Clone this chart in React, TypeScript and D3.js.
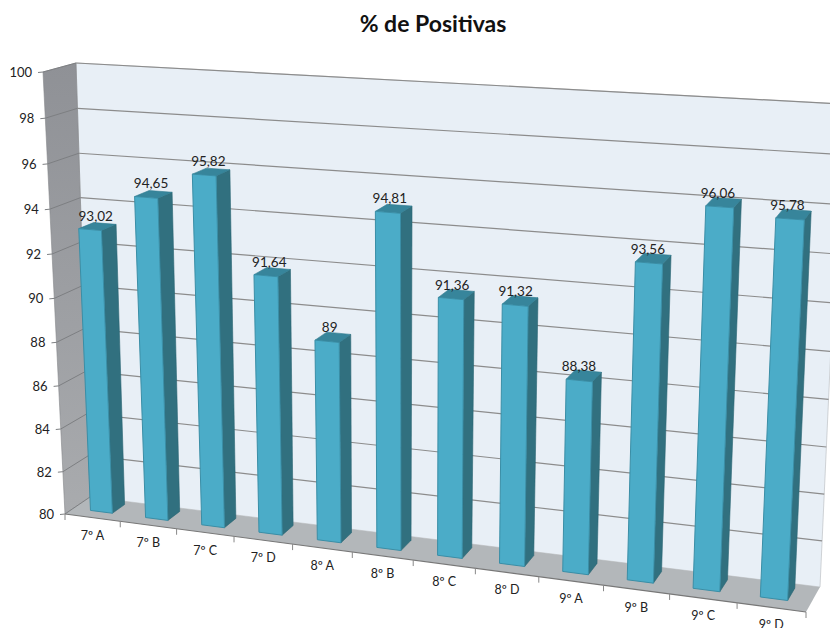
import React from "react";
import * as d3 from "d3";

const title = "% de Positivas";
const categories = ["7º A","7º B","7º C","7º D","8º A","8º B","8º C","8º D","9º A","9º B","9º C","9º D"];
const values = [93.02,94.65,95.82,91.64,89,94.81,91.36,91.32,88.38,93.56,96.06,95.78];
const valueLabels = ["93,02","94,65","95,82","91,64","89","94,81","91,36","91,32","88,38","93,56","96,06","95,78"];
const yTicks = [80,82,84,86,88,90,92,94,96,98,100];

type P = [number, number];
// corners of the 3D box on screen: f=front plane, b=back plane; l/r; b/t
const FLB: P = [65,514], FRB: P = [806,612], FLT: P = [43,72], FRT: P = [829,120];
const BLB: P = [90,497], BRB: P = [820,587], BLT: P = [76,63], BRT: P = [842,104];

const warp = (t: number, k: number) => t / (t + k * (1 - t));
const vScale = d3.scaleLinear().domain([80,100]).range([0,1]);
const band = d3.scaleBand<string>().domain(categories).range([0.001,0.997]).paddingInner(0.6).paddingOuter(0.3);
const slot = d3.scaleBand<string>().domain(categories).range([0,1]);

const mix = (a: P, b: P, t: number): P => [a[0]+(b[0]-a[0])*t, a[1]+(b[1]-a[1])*t];
function proj(u: number, val: number, w: number): P {
  const U = warp(u, 1.128), V = warp(vScale(val), 1.05);
  const front = mix(mix(FLB,FRB,U), mix(FLT,FRT,U), V);
  const back = mix(mix(BLB,BRB,U), mix(BLT,BRT,U), V);
  return mix(front, back, w);
}
const line = d3.line<P>();
const poly = (pts: P[]) => line(pts)! + "Z";
const W0 = 0.34, W1 = 0.84;

export default function App() {
  const font = "Lato, Carlito, Calibri, sans-serif";
  return (
    <svg width={830} height={628} style={{position:"absolute",left:0,top:0,background:"#fff"}} fontFamily={font}>
      <defs>
        <linearGradient id="lw" x1="0" y1="0" x2="0" y2="1">
          <stop offset="0" stopColor="#8f9196"/>
          <stop offset="1" stopColor="#a9abae"/>
        </linearGradient>
      </defs>
      <text x={433} y={32} textAnchor="middle" fontSize={23} fontWeight={700} fill="#111">{title}</text>
      <path d={poly([BLB,BRB,BRT,BLT])} fill="#e8eff6" stroke="#c4c8cc" strokeWidth={0.8}/>
      <path d={poly([FLB,BLB,BLT,FLT])} fill="url(#lw)" stroke="#85878a" strokeWidth={0.6}/>
      <path d={poly([FLB,FRB,BRB,BLB])} fill="#b3b7ba"/>
      {yTicks.map(t => {
        const a = proj(0,t,0), b = proj(0,t,1), c = proj(1,t,1);
        return (
          <g key={t}>
            {t>80 && <path d={line([b,c])!} stroke="#8c8c8c" strokeWidth={1.2} fill="none"/>}
            <path d={line([[a[0]-5,a[1]+0.5],a,b])!} stroke="#7d7f82" strokeWidth={1} fill="none"/>
            <text x={a[0]-11} y={a[1]+5} textAnchor="end" fontSize={13} fill="#222">{t}</text>
          </g>
        );
      })}
      <path d={line([FLB,FRB])!} stroke="#777" strokeWidth={1.2} fill="none"/>
      {d3.range(13).map(i => {
        const p = proj(i/12,80,0);
        return <path key={i} d={`M${p[0]},${p[1]}l0,6`} stroke="#888" strokeWidth={1}/>;
      })}
      {categories.map((c,i) => {
        const u = slot(c)! + slot.bandwidth()/2;
        const p = proj(u,80,0);
        return <text key={c} x={p[0]} y={p[1]+22} textAnchor="middle" fontSize={12.5} fill="#222">{c}</text>;
      })}
      {categories.map((c,i) => {
        const u0 = band(c)!, u1 = u0 + band.bandwidth(), v = values[i];
        const um = (u0+u1)/2;
        const fb = proj(u0,80,W0), fbr = proj(u1,80,W0), bbr = proj(u1,80,W1);
        const ft = proj(u0,v,W0), ftr = proj(u1,v,W0), btr = proj(u1,v,W1), btl = proj(u0,v,W1);
        const lab = proj(um,v,W0);
        return (
          <g key={c}>
            <path d={poly([fbr,bbr,btr,ftr])} fill="#31707f" stroke="#2a6472" strokeWidth={0.6}/>
            <path d={poly([ft,ftr,btr,btl])} fill="#37859b" stroke="#2f7a8e" strokeWidth={0.6}/>
            <path d={poly([fb,fbr,ftr,ft])} fill="#4bacc8" stroke="#3a8ea6" strokeWidth={1}/>
            <text x={lab[0]+6-9*um} y={lab[1]-9} textAnchor="middle" fontSize={13.5} fill="#222">{valueLabels[i]}</text>
          </g>
        );
      })}
    </svg>
  );
}
